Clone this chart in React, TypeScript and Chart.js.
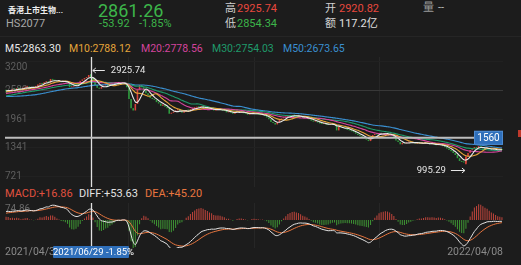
import React, { useEffect, useRef } from "react";
import { Chart, registerables } from "chart.js";

Chart.register(...registerables);

// ---------- data ----------
// closes before the first visible day (only used to warm up the indicators)
const warmupCloses = [
  2700, 2720, 2690, 2660, 2680, 2650, 2620, 2640, 2600, 2580,
  2600, 2570, 2540, 2560, 2520, 2500, 2530, 2490, 2460, 2480,
  2450, 2420, 2440, 2400, 2380, 2350, 2370, 2330, 2300, 2320,
  2290, 2310, 2340, 2320, 2350, 2370, 2360, 2390, 2380, 2400,
  2420, 2400, 2440, 2470, 2460, 2490, 2470, 2500, 2520, 2510,
  2500, 2490, 2520, 2540, 2530, 2560, 2550, 2570, 2580, 2600,
];

// daily closes, 2021/04/30 .. 2022/04/08
const closes = [
  2560, 2590, 2570, 2610, 2600, 2630, 2620, 2600, 2640, 2660, 2670,
  2620, 2650, 2640, 2680, 2710, 2740, 2720, 2760, 2780, 2750,
  2830, 2810, 2790, 2770, 2780, 2760, 2790, 2770, 2740, 2650,
  2660, 2680, 2700, 2740, 2790,
  2820, 2850, 2870, 2915.18,
  2861.26,
  2800, 2700, 2640, 2620, 2660, 2690, 2700, 2680, 2720, 2710,
  2740, 2760, 2740, 2720, 2750, 2730, 2650,
  2400, 2200, 2150, 2290, 2600, 2700, 2650,
  2600, 2520, 2480, 2420, 2400,
  2380, 2330, 2300, 2250, 2280, 2230, 2200, 2080, 2100, 2120,
  2150, 2180, 2130, 2100, 2140, 2160, 2150, 2180, 2200, 2210,
  2230, 2220, 2240, 2210, 2190, 2200, 2170, 2180, 2150, 2160,
  2180, 2170, 2150, 2140, 2110, 2130, 2100, 2080, 2120, 2130,
  2120, 2110, 2090, 2080, 2060, 2080, 2100, 2090, 2070, 2060,
  2050, 2060, 2030, 2000, 1960, 1900, 1880, 1850, 1900, 1950,
  1980, 2000, 2010, 2040, 2030, 2050, 2040, 2020, 2030, 2010,
  1990, 2000, 1980, 1960, 1930, 1910, 1920, 1890, 1870, 1860,
  1860, 1850, 1840, 1860, 1850, 1830, 1720, 1800, 1790, 1770,
  1760, 1730, 1720, 1700, 1680, 1650, 1620, 1600, 1580, 1550,
  1520, 1490, 1560, 1620, 1640, 1630, 1660, 1650, 1640, 1660,
  1640, 1620, 1600, 1560, 1500, 1470, 1420, 1450, 1440, 1460,
  1470, 1450, 1460, 1440, 1460, 1450, 1430, 1440, 1450, 1430,
  1420, 1430, 1410, 1400, 1420, 1400, 1380, 1360, 1330, 1300,
  1270, 1230, 1190, 1120, 1060, 1040, 1030, 1150, 1230, 1300,
  1330, 1360, 1340, 1380, 1350, 1330, 1320, 1340, 1310, 1300,
  1320, 1300, 1290, 1310, 1300,
];

const firstDate = "2021/04/30";
const lastDate = "2022/04/08";

const crossIndex = 40;
const crossDate = "2021/06/29";
const crossOpen = 2920.82;
const crossHigh = 2925.74;
const crossLow = 2854.34;
const crossClose = 2861.26;
const crossChange = "-53.92";
const crossPct = "-1.85%";
const crossAmount = "117.2亿";
const lowIndex = 217;
const lowValue = 995.29;

const priceTicks = [3200, 2580, 1961, 1341, 721];
const priceAxisMin = 499;
const priceAxisMax = 3304;
const crossPriceLevel = 1560;
const verticalGridDays = [58, 117, 176];

const maNames = ["M5", "M10", "M20", "M30", "M50"];
const maPeriods = [5, 10, 20, 30, 50];
const maLegendValues = ["2863.30", "2788.12", "2778.56", "2754.03", "2673.65"];
const maColors = ["#e9e9e9", "#e5a53a", "#d4449c", "#1f9a6a", "#3a8fd0"];
const maLegendX = [5, 69, 141, 212, 283];

const macdLegend = ["MACD:+16.86", "DIFF:+53.63", "DEA:+45.20"];
const macdLegendColors = ["#e0513f", "#e2e2e2", "#e8763f"];
const macdLegendX = [5, 79, 145];
const macdTopTick = 74.86;
const macdAxisMin = -123;

// ---------- derived ----------
const BG = "#1c1c1c";
const UP = "#d8443a";
const DOWN = "#2f9e3f";
const FONT = "Roboto, 'Noto Sans CJK SC', sans-serif";

const K = warmupCloses.length;
const fullCloses = [...warmupCloses, ...closes];
const dayLabels = closes.map((_, i) => String(i));

const opens = closes.map((c, i) =>
  i === crossIndex ? crossOpen : i === 0 ? warmupCloses[K - 1] : closes[i - 1]
);

function sma(n: number) {
  return closes.map((_, i) => {
    let s = 0;
    for (let j = K + i - n + 1; j <= K + i; j++) s += fullCloses[j];
    return s / n;
  });
}
function ema(arr: number[], n: number) {
  const a = 2 / (n + 1);
  const out: number[] = [];
  let prev = arr[0];
  arr.forEach((v, i) => {
    prev = i === 0 ? v : prev + a * (v - prev);
    out.push(prev);
  });
  return out;
}
const e12 = ema(fullCloses, 12);
const e26 = ema(fullCloses, 26);
const difFull = fullCloses.map((_, i) => e12[i] - e26[i]);
const deaFull = ema(difFull, 9);
const dif = difFull.slice(K);
const dea = deaFull.slice(K);
const hist = dif.map((d, i) => 2 * (d - dea[i]));

const wicks = closes.map((c, i) => {
  if (i === crossIndex) return [crossLow, crossHigh];
  if (i === lowIndex) return [lowValue, Math.max(opens[i], c)];
  return null;
});

const xScaleConfig: any = {
  display: true,
  offset: true,
  grid: { display: true, color: "#262626", drawTicks: false, offset: false, lineWidth: 1 },
  ticks: { display: false },
  border: { display: false },
  afterBuildTicks: (s: any) => {
    s.ticks = verticalGridDays.map((v) => ({ value: v }));
  },
  afterFit: (s: any) => {
    s.height = 0;
  },
};

function PriceChart() {
  const ref = useRef<HTMLCanvasElement>(null);
  useEffect(() => {
    const overlay = {
      id: "priceOverlay",
      beforeDatasetsDraw(chart: any) {
        const { ctx, chartArea, scales } = chart;
        const y = scales.y;
        ctx.save();
        ctx.fillStyle = "#5e5e5e";
        ctx.font = `10px ${FONT}`;
        ctx.textAlign = "left";
        const top = Math.max(...priceTicks);
        y.ticks.forEach((t: any) => {
          const py = y.getPixelForValue(t.value);
          ctx.textBaseline = t.value === top ? "top" : "middle";
          ctx.fillText(String(t.value), chartArea.left, t.value === top ? py + 1 : py);
        });
        ctx.restore();
      },
      afterDatasetsDraw(chart: any) {
        const { ctx, chartArea, scales } = chart;
        const { x, y } = scales;
        ctx.save();
        // crosshair vertical
        const cx = Math.round(x.getPixelForValue(crossIndex)) + 0.5;
        ctx.strokeStyle = "#e0e0e0";
        ctx.lineWidth = 1.3;
        ctx.beginPath();
        ctx.moveTo(cx, 0);
        ctx.lineTo(cx, chart.height);
        ctx.stroke();
        // crosshair horizontal
        const cy = y.getPixelForValue(crossPriceLevel);
        ctx.strokeStyle = "#bdbdbd";
        ctx.lineWidth = 2;
        ctx.beginPath();
        ctx.moveTo(chartArea.left, cy);
        ctx.lineTo(chartArea.right, cy);
        ctx.stroke();
        // price box
        const bw = 29, bh = 14;
        ctx.fillStyle = "#2f6fba";
        ctx.fillRect(chartArea.right - bw, cy - bh / 2, bw, bh);
        ctx.strokeStyle = "#4d8ad0";
        ctx.lineWidth = 1;
        ctx.strokeRect(chartArea.right - bw + 0.5, cy - bh / 2 + 0.5, bw - 1, bh - 1);
        ctx.fillStyle = "#ffffff";
        ctx.font = `10px ${FONT}`;
        ctx.textAlign = "center";
        ctx.textBaseline = "middle";
        ctx.fillText(String(crossPriceLevel), chartArea.right - bw / 2, cy + 0.5);
        // high annotation
        ctx.strokeStyle = "#e6e6e6";
        ctx.fillStyle = "#e6e6e6";
        ctx.lineWidth = 1;
        const hx = x.getPixelForValue(crossIndex) + 2;
        const hy = Math.round(y.getPixelForValue(crossHigh) - 5) + 0.5;
        ctx.beginPath();
        ctx.moveTo(hx, hy);
        ctx.lineTo(hx + 12, hy);
        ctx.moveTo(hx, hy);
        ctx.lineTo(hx + 3, hy - 2.5);
        ctx.moveTo(hx, hy);
        ctx.lineTo(hx + 3, hy + 2.5);
        ctx.stroke();
        ctx.font = `9.5px ${FONT}`;
        ctx.textAlign = "left";
        ctx.fillText(crossHigh.toFixed(2), hx + 18, hy);
        // low annotation
        const lx = x.getPixelForValue(lowIndex) - 1;
        const ly = Math.round(y.getPixelForValue(lowValue) + 6) + 0.5;
        ctx.beginPath();
        ctx.moveTo(lx - 14, ly);
        ctx.lineTo(lx, ly);
        ctx.moveTo(lx, ly);
        ctx.lineTo(lx - 3, ly - 2.5);
        ctx.moveTo(lx, ly);
        ctx.lineTo(lx - 3, ly + 2.5);
        ctx.stroke();
        ctx.textAlign = "right";
        ctx.fillText(lowValue.toFixed(2), lx - 19, ly);
        ctx.restore();
      },
    };

    const maDatasets = maPeriods.map((p, k) => ({
      type: "line" as const,
      label: maNames[k],
      data: sma(p),
      borderColor: maColors[k],
      borderWidth: 1.1,
      pointRadius: 0,
      tension: 0.3,
      order: 1 + k * 0.1,
    }));
    maDatasets.reverse();

    const chart = new Chart(ref.current!, {
      type: "bar",
      data: {
        labels: dayLabels,
        datasets: [
          {
            type: "bar",
            label: "wick",
            data: wicks as any,
            backgroundColor: closes.map((c, i) => (c >= opens[i] ? UP : DOWN)),
            barThickness: 1,
            grouped: false,
            order: 11,
          },
          {
            type: "bar",
            label: "candle",
            data: closes.map((c, i) => [opens[i], c]) as any,
            backgroundColor: closes.map((c, i) => (c >= opens[i] ? UP : DOWN)),
            barPercentage: 0.75,
            categoryPercentage: 1,
            minBarLength: 1,
            grouped: false,
            order: 10,
          },
          ...maDatasets,
        ] as any,
      },
      options: {
        responsive: false,
        maintainAspectRatio: false,
        animation: false,
        devicePixelRatio: 1,
        events: [],
        layout: { padding: 0 },
        plugins: { legend: { display: false }, tooltip: { enabled: false } },
        scales: {
          x: xScaleConfig,
          y: {
            display: true,
            min: priceAxisMin,
            max: priceAxisMax,
            grid: {
              drawTicks: false,
              color: (c: any) => (c.tick && c.tick.value === 2580 ? "#383838" : "#212121"),
            },
            ticks: { display: false },
            border: { display: false },
            afterBuildTicks: (s: any) => {
              s.ticks = priceTicks.map((v) => ({ value: v }));
            },
            afterFit: (s: any) => {
              s.width = 0;
            },
          },
        },
      } as any,
      plugins: [overlay],
    });
    return () => chart.destroy();
  }, []);
  return (
    <canvas
      ref={ref}
      width={498}
      height={130}
      style={{ position: "absolute", left: 5, top: 57, width: 498, height: 130 }}
    />
  );
}

function MacdChart() {
  const ref = useRef<HTMLCanvasElement>(null);
  useEffect(() => {
    const overlay = {
      id: "macdOverlay",
      beforeDatasetsDraw(chart: any) {
        const { ctx, chartArea, scales } = chart;
        ctx.save();
        ctx.fillStyle = "#6a6a6a";
        ctx.font = `10px ${FONT}`;
        ctx.textAlign = "left";
        ctx.textBaseline = "top";
        ctx.fillText(macdTopTick.toFixed(2), chartArea.left, scales.y.getPixelForValue(macdTopTick) + 1);
        ctx.restore();
      },
      afterDatasetsDraw(chart: any) {
        const { ctx, scales } = chart;
        ctx.save();
        const cx = Math.round(scales.x.getPixelForValue(crossIndex)) + 0.5;
        ctx.strokeStyle = "#e0e0e0";
        ctx.lineWidth = 1.3;
        ctx.beginPath();
        ctx.moveTo(cx, 0);
        ctx.lineTo(cx, chart.height);
        ctx.stroke();
        ctx.restore();
      },
    };
    const chart = new Chart(ref.current!, {
      type: "bar",
      data: {
        labels: dayLabels,
        datasets: [
          {
            type: "bar",
            label: "MACD",
            data: hist,
            backgroundColor: hist.map((h) => (h >= 0 ? "#b8433a" : "#3d8f33")),
            barPercentage: 0.5,
            categoryPercentage: 1,
            order: 5,
          },
          {
            type: "line",
            label: "DIFF",
            data: dif,
            borderColor: "#e4e4e4",
            borderWidth: 1,
            pointRadius: 0,
            tension: 0.3,
            order: 1,
          },
          {
            type: "line",
            label: "DEA",
            data: dea,
            borderColor: "#e8763f",
            borderWidth: 1,
            pointRadius: 0,
            tension: 0.3,
            order: 2,
          },
        ] as any,
      },
      options: {
        responsive: false,
        maintainAspectRatio: false,
        animation: false,
        devicePixelRatio: 1,
        events: [],
        layout: { padding: 0 },
        plugins: { legend: { display: false }, tooltip: { enabled: false } },
        scales: {
          x: xScaleConfig,
          y: {
            display: true,
            min: macdAxisMin,
            max: macdTopTick,
            grid: { display: false },
            ticks: { display: false },
            border: { display: false },
            afterFit: (s: any) => {
              s.width = 0;
            },
          },
        },
      } as any,
      plugins: [overlay],
    });
    return () => chart.destroy();
  }, []);
  return (
    <canvas
      ref={ref}
      width={498}
      height={45}
      style={{ position: "absolute", left: 5, top: 203, width: 498, height: 45 }}
    />
  );
}

function T(props: {
  x: number;
  y: number;
  size: number;
  color: string;
  children: React.ReactNode;
  right?: boolean;
  weight?: number;
}) {
  const lh = Math.round(props.size * 1.3);
  const style: React.CSSProperties = {
    position: "absolute",
    top: props.y - lh / 2,
    height: lh,
    lineHeight: `${lh}px`,
    fontSize: props.size,
    color: props.color,
    fontFamily: FONT,
    whiteSpace: "nowrap",
    fontWeight: props.weight || 400,
  };
  if (props.right) style.right = 521 - props.x;
  else style.left = props.x;
  return <div style={style}>{props.children}</div>;
}

export default function App() {
  useEffect(() => {
    document.body.style.margin = "0";
    document.body.style.background = BG;
  }, []);
  const GREEN = "#3cb54a";
  const RED = "#e8483e";
  return (
    <div
      style={{
        position: "fixed",
        left: 0,
        top: 0,
        width: 521,
        height: 265,
        background: BG,
        overflow: "hidden",
      }}
    >
      {/* header */}
      <T x={8} y={11} size={8} color="#eeeeee" weight={700}>香港上市生物...</T>
      <T x={6} y={24} size={11} color="#a8a8a8">HS2077</T>
      <T x={98} y={10} size={18} color={GREEN}>{crossClose.toFixed(2)}</T>
      <T x={99} y={24} size={11} color={GREEN}>{crossChange}</T>
      <T x={139} y={24} size={11} color={GREEN}>{crossPct}</T>
      <T x={225} y={9} size={11} color="#cfcfcf">高</T>
      <T x={237} y={9} size={11} color={RED}>{crossHigh.toFixed(2)}</T>
      <T x={225} y={24} size={11} color="#cfcfcf">低</T>
      <T x={237} y={24} size={11} color={GREEN}>{crossLow.toFixed(2)}</T>
      <T x={325} y={9} size={11} color="#cfcfcf">开</T>
      <T x={339} y={9} size={11} color={RED}>{crossOpen.toFixed(2)}</T>
      <T x={325} y={24} size={11} color="#cfcfcf">额</T>
      <T x={339} y={24} size={11} color="#e0e0e0">{crossAmount}</T>
      <T x={423} y={8} size={11} color="#9a9a9a">量</T>
      <T x={438} y={8} size={11} color="#bdbdbd">--</T>
      <div style={{ position: "absolute", left: 0, top: 36, width: 521, height: 1, background: "#252525" }} />

      {/* MA legend */}
      {maNames.map((n, k) => (
        <T key={n} x={maLegendX[k]} y={48.5} size={10.5} color={maColors[k]}>
          {`${n}:${maLegendValues[k]}`}
        </T>
      ))}

      <PriceChart />

      {/* MACD legend */}
      {macdLegend.map((s, k) => (
        <T key={s} x={macdLegendX[k]} y={193.5} size={11} color={macdLegendColors[k]}>
          {s}
        </T>
      ))}

      <MacdChart />

      {/* date axis */}
      <T x={5} y={252} size={10.5} color="#8a8a8a">{firstDate}</T>
      <T x={503} y={252} size={10.5} color="#8a8a8a" right>{lastDate}</T>
      <div
        style={{
          position: "absolute",
          left: 53,
          top: 246,
          width: 76,
          height: 12,
          background: "#2f6fba",
          borderRadius: 1,
          color: "#ffffff",
          fontFamily: FONT,
          fontSize: 9.5,
          lineHeight: "12px",
          textAlign: "center",
          whiteSpace: "nowrap",
        }}
      >
        {`${crossDate}  ${crossPct}`}
      </div>
      <div style={{ position: "absolute", left: 518, top: 130, width: 3, height: 7, background: "#c0392b" }} />
    </div>
  );
}
